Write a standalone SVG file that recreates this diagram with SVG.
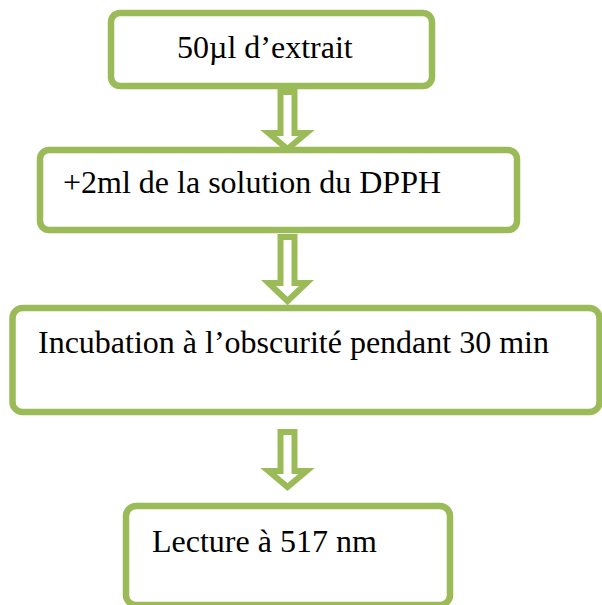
<svg xmlns="http://www.w3.org/2000/svg" width="602" height="605" viewBox="0 0 602 605">
  <style>
    .box { fill: #ffffff; stroke: #9bbb59; stroke-width: 6.5; }
    .arrow { fill: #ffffff; stroke: #9bbb59; stroke-width: 6; stroke-linejoin: miter; }
    .label { font-family: "Liberation Serif", "Times New Roman", serif; font-size: 32px; fill: #000000; }
  </style>
  <rect width="602" height="605" fill="#ffffff"/>

  <!-- step boxes -->
  <g id="step-extract">
    <rect class="box" x="111" y="13" width="321" height="73" rx="9"/>
    <text class="label" x="177" y="58">50µl d’extrait</text>
  </g>
  <g id="step-dpph">
    <rect class="box" x="40" y="150" width="477" height="80" rx="9"/>
    <text class="label" x="63" y="193">+2ml de la solution du DPPH</text>
  </g>
  <g id="step-incubation">
    <rect class="box" x="12.5" y="308" width="587" height="104" rx="10"/>
    <text class="label" x="38" y="353">Incubation à l’obscurité pendant 30 min</text>
  </g>
  <g id="step-reading">
    <rect class="box" x="126" y="506" width="324" height="99" rx="10"/>
    <text class="label" x="152" y="552">Lecture à 517 nm</text>
  </g>

  <!-- hollow block arrows between steps -->
  <g id="connectors">
    <path class="arrow" d="M280.5,92 L294.5,92 L294.5,133 L306.5,133 L287.5,149 L268.5,133 L280.5,133 Z"/>
    <path class="arrow" d="M280.5,237 L294.5,237 L294.5,283 L306.5,283 L287.5,301 L268.5,283 L280.5,283 Z"/>
    <path class="arrow" d="M280.5,432 L294.5,432 L294.5,471 L306.5,471 L287.5,487 L268.5,471 L280.5,471 Z"/>
  </g>
</svg>
